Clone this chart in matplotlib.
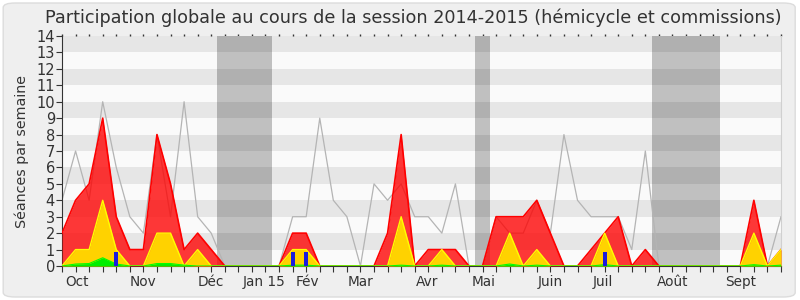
import matplotlib
matplotlib.use("Agg")
import matplotlib.pyplot as plt
from matplotlib.patches import FancyBboxPatch
import numpy as np

# Weekly data (week index 0..53)
total = [2, 4, 5, 9, 3, 1, 1, 8, 5, 1, 2, 1, 0, 0, 0, 0,
         0, 2, 2, 0, 0, 0, 0, 0, 2, 8, 0, 1, 1, 1, 0,
         0, 3, 3, 3, 4, 2, 0, 0, 1, 2, 3, 0, 1, 0, 0, 0, 0, 0, 0, 0, 4, 0, 1]
hemicycle = [0, 1, 1, 4, 1, 0, 0, 2, 2, 0, 1, 0, 0, 0, 0, 0,
             0, 1, 1, 0, 0, 0, 0, 0, 0, 3, 0, 0, 1, 0, 0,
             0, 0, 2, 0, 1, 0, 0, 0, 0, 2, 0, 0, 0, 0, 0, 0, 0, 0, 0, 0, 2, 0, 1]
interventions = [0, 0.12, 0.15, 0.5, 0.12, 0, 0, 0.15, 0.15, 0.05, 0, 0, 0, 0, 0, 0,
                 0, 0.05, 0.05, 0, 0, 0, 0, 0, 0, 0.05, 0, 0, 0.05, 0, 0,
                 0, 0, 0.12, 0, 0.05, 0, 0, 0, 0, 0.08, 0, 0, 0, 0, 0, 0, 0, 0, 0, 0, 0.08, 0, 0.05]
mediane = [4, 7, 4, 10, 6, 3, 2, 8, 3, 10, 3, 2, 0, 0, 0, 0,
           0, 3, 3, 9, 4, 3, 0, 5, 4, 5, 3, 3, 2, 5, 0,
           0, 3, 2, 2, 4, 2, 8, 4, 3, 3, 3, 1, 7, 0, 0, 0, 0, 0, 0, 0, 0, 0, 3]
rapport_weeks = [4, 17, 18, 40]
rapport_vals = [0.87, 0.87, 0.87, 0.87]
vacances = [(11.46, 15.45), (30.43, 31.54), (43.49, 48.51)]
month_labels = ["Oct", "Nov", "Déc", "Jan 15", "Fév", "Mar", "Avr", "Mai", "Juin", "Juil", "Août", "Sept"]
month_pos = [1.1, 5.95, 10.95, 14.9, 18.1, 22.0, 26.9, 31.1, 35.97, 39.9, 45.0, 50.0]

weeks = np.arange(len(total))

fig = plt.figure(figsize=(8, 3), dpi=100)
fig.patch.set_facecolor("white")
fig.patches.append(FancyBboxPatch((0.004, 0.01), 0.99, 0.98, boxstyle="round,pad=0,rounding_size=0.015",
                                  transform=fig.transFigure, facecolor="#efefef", edgecolor="#dcdcdc",
                                  linewidth=1, zorder=-10))

ax = fig.add_axes([62/800, 34/300, 719/800, 230/300])
ax.set_facecolor("#fafafa")
ax.set_xlim(0, 53)
ax.set_ylim(0, 14)

for a, b in vacances:
    ax.axvspan(a, b, color="#c0c0c0", zorder=0.5, lw=0)
for k in range(1, 14, 2):
    ax.axhspan(k, k + 1, color="black", alpha=0.08, zorder=0.6, lw=0)

ax.plot(weeks, mediane, color="#b4b4b4", lw=0.9, zorder=2)
ax.fill_between(weeks, 0, total, color="#ff0000", alpha=0.78, lw=0, zorder=3)
ax.plot(weeks, total, color="#ff0000", lw=1.2, zorder=3.1)
ax.fill_between(weeks, 0, hemicycle, color="#ffd200", lw=0, zorder=4)
ax.plot(weeks, hemicycle, color="#ffff00", lw=1, zorder=4.1)
ax.fill_between(weeks, 0, interventions, color="#00ee00", lw=0, zorder=5)
ax.plot(weeks, interventions, color="#00ff00", lw=0.8, zorder=5.1)
ax.bar(rapport_weeks, rapport_vals, width=0.3, color="#1c1cdc", zorder=6)

ax.spines["top"].set_visible(False)
ax.spines["right"].set_color("#d0d0d0")
ax.spines["left"].set_color("#333333")
ax.spines["bottom"].set_color("#333333")

ax.set_yticks(range(0, 15))
ax.tick_params(axis="y", labelsize=10.5, length=4, color="#333333", labelcolor="#333333", pad=1)
ax.set_xticks(weeks)
ax.set_xticklabels([])
ax.tick_params(axis="x", length=4, color="#333333")

top = ax.secondary_xaxis("top")
top.set_xticks(weeks)
top.set_xticklabels([])
top.tick_params(axis="x", length=1.5, width=1, color="#333333")
top.spines["top"].set_visible(False)

for i, lab in zip(month_pos, month_labels):
    ax.text(i, -0.55, lab, ha="center", va="top", fontsize=9.8, color="#333333")

ax.set_ylabel("Séances par semaine", fontsize=10.3, color="#333333", labelpad=5)
fig.text(413/800, 1 - 18/300, "Participation globale au cours de la session 2014-2015 (hémicycle et commissions)",
         ha="center", va="center", fontsize=12.7, color="#333333")

fig.savefig("out.png", dpi=100, facecolor=fig.get_facecolor())
